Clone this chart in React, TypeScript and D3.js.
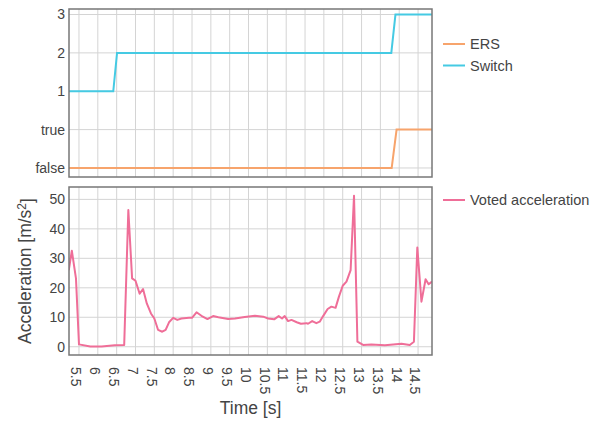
import * as React from 'react';
import * as d3 from 'd3';

// chart size (matches the window)
const WIDTH = 601;
const HEIGHT = 423;

// shared time axis
const X_DOMAIN = [5.235, 14.87];
const X_TICKS = [5.5, 6, 6.5, 7, 7.5, 8, 8.5, 9, 9.5, 10, 10.5, 11, 11.5, 12, 12.5, 13, 13.5, 14, 14.5];

// top panel: boolean + switch position share one categorical axis
const STATE_LABELS = ['false', 'true', '1', '2', '3'];

const ersTime = [5.2, 13.8, 13.93, 14.9];
const ersValue = [false, false, true, true];

const switchTime = [5.2, 6.41, 6.51, 13.79, 13.9, 14.9];
const switchValue = [1, 1, 2, 2, 3, 3];

// bottom panel: voted acceleration
const ACC_TICKS = [0, 10, 20, 30, 40, 50];
const accTime = [
    5.23, 5.31, 5.42, 5.5, 5.8, 6.1, 6.45, 6.7, 6.81, 6.91, 7.0, 7.11, 7.2, 7.3, 7.41, 7.5,
    7.6, 7.71, 7.8, 7.89, 8.0, 8.11, 8.22, 8.42, 8.5, 8.62, 8.75, 8.91, 9.06, 9.2, 9.46, 9.64,
    9.9, 10.17, 10.39, 10.52, 10.68, 10.8, 10.89, 10.96, 11.05, 11.14, 11.28, 11.39, 11.54, 11.58,
    11.69, 11.8, 11.89, 11.98, 12.1, 12.2, 12.31, 12.4, 12.5, 12.6, 12.71, 12.8, 12.89, 13.04,
    13.26, 13.62, 14.06, 14.28, 14.39, 14.48, 14.59, 14.7, 14.78, 14.87
];
const accValue = [
    26, 32.6, 23.2, 0.8, 0.1, 0.1, 0.5, 0.6, 46.4, 23.2, 22.4, 18, 19.6, 14.7, 11.3, 9.6,
    5.7, 5.1, 5.7, 8.3, 9.8, 9.1, 9.6, 9.8, 9.8, 11.7, 10.5, 9.4, 10.4, 10, 9.4, 9.6,
    10.1, 10.5, 10.2, 9.6, 9.3, 10.4, 9.6, 10.4, 8.7, 9.1, 8.3, 7.8, 8.0, 7.8,
    8.7, 8.0, 8.5, 10.4, 12.8, 13.6, 13.2, 17, 20.7, 22.1, 26, 51.2, 1.7, 0.6,
    0.8, 0.5, 1.0, 0.6, 1.7, 33.7, 15.3, 22.9, 21.2, 22.1
];

const COLORS = { ers: '#f7a46c', sw: '#45cae3', acc: '#ef6e98' };
const FONT = '"Liberation Sans", Arial, sans-serif';
const TEXT = '#444';

const PLOT_LEFT = 69;
const PLOT_RIGHT = 432;
const TOP_PANEL = { top: 9, bottom: 177 };
const BOTTOM_PANEL = { top: 187, bottom: 355 };

export default class App extends React.Component {
    svgRef = React.createRef<SVGSVGElement>();

    componentDidMount() {
        this._renderChart();
    }

    _renderChart = () => {
        const svg = d3.select(this.svgRef.current);
        svg.selectAll('*').remove();

        const xScale = d3.scaleLinear().domain(X_DOMAIN).range([PLOT_LEFT, PLOT_RIGHT]);
        const yState = d3.scaleLinear().domain([-0.235, 4.144]).range([TOP_PANEL.bottom, TOP_PANEL.top]);
        const yAcc = d3.scaleLinear().domain([-2.8, 54.2]).range([BOTTOM_PANEL.bottom, BOTTOM_PANEL.top]);

        const defs = svg.append('defs');
        [['clipTop', TOP_PANEL], ['clipBottom', BOTTOM_PANEL]].forEach(([id, p]: any) => {
            defs.append('clipPath').attr('id', id)
                .append('rect')
                .attr('x', PLOT_LEFT).attr('y', p.top)
                .attr('width', PLOT_RIGHT - PLOT_LEFT).attr('height', p.bottom - p.top);
        });

        // grid for one panel
        const drawGrid = (panel, yTicks: number[], yScale, labels: (d, i) => string) => {
            const g = svg.append('g');
            g.selectAll('.vgrid').data(X_TICKS).enter().append('line')
                .attr('x1', d => xScale(d)).attr('x2', d => xScale(d))
                .attr('y1', panel.top).attr('y2', panel.bottom)
                .attr('stroke', '#d4d4d4').attr('stroke-width', 1);
            g.selectAll('.hgrid').data(yTicks).enter().append('line')
                .attr('x1', PLOT_LEFT).attr('x2', PLOT_RIGHT)
                .attr('y1', d => yScale(d)).attr('y2', d => yScale(d))
                .attr('stroke', '#d4d4d4').attr('stroke-width', 1);
            g.selectAll('.ylabel').data(yTicks).enter().append('text')
                .attr('x', 65).attr('y', d => yScale(d)).attr('dy', '0.35em')
                .attr('text-anchor', 'end')
                .style('font-family', FONT).style('font-size', '14px').attr('fill', TEXT)
                .text(labels);
            return g;
        };

        drawGrid(TOP_PANEL, [0, 1, 2, 3, 4], yState, (d, i) => STATE_LABELS[i]);
        drawGrid(BOTTOM_PANEL, ACC_TICKS, yAcc, d => String(d));

        // top panel lines
        const top = svg.append('g').attr('clip-path', 'url(#clipTop)');
        const stateLine = d3.line<[number, number]>().x(d => xScale(d[0])).y(d => yState(d[1]));
        top.append('path')
            .attr('d', stateLine(ersTime.map((t, i) => [t, ersValue[i] ? 1 : 0])))
            .attr('fill', 'none').attr('stroke', COLORS.ers).attr('stroke-width', 2);
        top.append('path')
            .attr('d', stateLine(switchTime.map((t, i) => [t, switchValue[i] + 1])))
            .attr('fill', 'none').attr('stroke', COLORS.sw).attr('stroke-width', 2);

        // bottom panel line
        const bottom = svg.append('g').attr('clip-path', 'url(#clipBottom)');
        const accLine = d3.line<number>().x(d => xScale(d)).y((d, i) => yAcc(accValue[i]));
        bottom.append('path')
            .attr('d', accLine(accTime))
            .attr('fill', 'none').attr('stroke', COLORS.acc).attr('stroke-width', 2)
            .attr('stroke-linejoin', 'round');

        // panel borders
        [TOP_PANEL, BOTTOM_PANEL].forEach(p => {
            svg.append('rect')
                .attr('x', PLOT_LEFT).attr('y', p.top)
                .attr('width', PLOT_RIGHT - PLOT_LEFT).attr('height', p.bottom - p.top)
                .attr('fill', 'none').attr('stroke', '#777').attr('stroke-width', 1.5);
        });

        // rotated x tick labels
        const fmt = d3.format('');
        svg.append('g').selectAll('text').data(X_TICKS).enter().append('text')
            .attr('transform', d => 'translate(' + [xScale(d), 367] + ') rotate(90)')
            .attr('dy', '0.55em')
            .attr('text-anchor', 'start')
            .style('font-family', FONT).style('font-size', '14px').attr('fill', TEXT)
            .text(d => fmt(d));

        // axis titles
        svg.append('text')
            .attr('x', (PLOT_LEFT + PLOT_RIGHT) / 2).attr('y', 414)
            .attr('text-anchor', 'middle')
            .style('font-family', FONT).style('font-size', '17.5px').attr('fill', TEXT)
            .text('Time [s]');

        const yTitle = svg.append('text')
            .attr('transform', 'translate(' + [31, (BOTTOM_PANEL.top + BOTTOM_PANEL.bottom) / 2] + ') rotate(-90)')
            .attr('text-anchor', 'middle')
            .style('font-family', FONT).style('font-size', '17.5px').attr('fill', TEXT);
        yTitle.append('tspan').text('Acceleration [m/s');
        yTitle.append('tspan').attr('dy', '-0.45em').style('font-size', '12px').text('2');
        yTitle.append('tspan').attr('dy', '0.45em').text(']');

        // legends
        const legendItems = [
            { label: 'ERS', color: COLORS.ers, y: 44 },
            { label: 'Switch', color: COLORS.sw, y: 65.5 },
            { label: 'Voted acceleration', color: COLORS.acc, y: 200 }
        ];
        const lg = svg.append('g').selectAll('g').data(legendItems).enter().append('g')
            .attr('transform', d => 'translate(' + [443, d.y] + ')');
        lg.append('line').attr('x1', 0).attr('x2', 22).attr('y1', 0).attr('y2', 0)
            .attr('stroke', d => d.color).attr('stroke-width', 2);
        lg.append('text').attr('x', 27).attr('dy', '0.35em')
            .style('font-family', FONT).style('font-size', '14.5px').attr('fill', TEXT)
            .text(d => d.label);
    }

    render() {
        return (
            <svg ref={this.svgRef} width={WIDTH} height={HEIGHT}
                style={{ position: 'absolute', left: 0, top: 0, background: '#fff' }} />
        );
    }
}
